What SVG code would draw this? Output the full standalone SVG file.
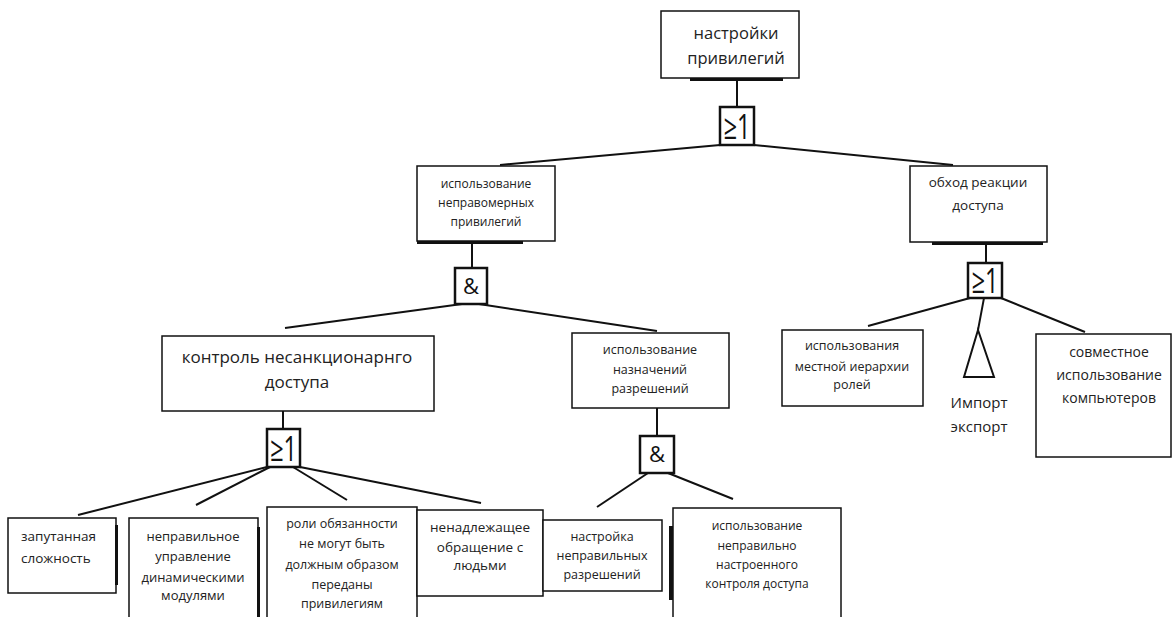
<svg xmlns="http://www.w3.org/2000/svg" width="1172" height="617" viewBox="0 0 1172 617">
<style>
.box{fill:#fff;stroke:#111;stroke-width:1.5}
.bar{fill:#111}
.gate{fill:#fff;stroke:#111;stroke-width:2.5}
.t{font-family:"Open Sans","Liberation Sans",sans-serif;fill:#222;text-anchor:middle}
.ts{font-family:"Open Sans","Liberation Sans",sans-serif;fill:#222;text-anchor:start}
.g{font-family:"Open Sans","Liberation Sans",sans-serif;fill:#111;text-anchor:middle}
.c line{stroke:#111;stroke-width:2;fill:none}
</style>
<rect width="1172" height="617" fill="#fff"/>
<g class="c" id="connectors">
<line x1="737" y1="80" x2="737" y2="107"/>
<line x1="720" y1="145" x2="500" y2="165"/>
<line x1="754" y1="145" x2="953" y2="165"/>
<line x1="472" y1="244" x2="472" y2="268"/>
<line x1="462" y1="304" x2="285" y2="328"/>
<line x1="479" y1="304" x2="657" y2="331"/>
<line x1="283" y1="411" x2="283" y2="429"/>
<line x1="657" y1="408" x2="657" y2="436"/>
<line x1="267" y1="467" x2="78" y2="515"/>
<line x1="270" y1="467" x2="196" y2="505"/>
<line x1="293" y1="467" x2="347" y2="500"/>
<line x1="300" y1="467" x2="481" y2="503"/>
<line x1="648" y1="473" x2="597" y2="507"/>
<line x1="668" y1="473" x2="733" y2="499"/>
<line x1="986" y1="245" x2="986" y2="263"/>
<line x1="970" y1="298" x2="868" y2="326"/>
<line x1="984" y1="298" x2="978" y2="330"/>
<line x1="1001" y1="298" x2="1085" y2="332"/>
</g>
<g id="n_top">
<rect class="box" x="661" y="11" width="138" height="67"/>
<rect class="bar" x="690" y="78" width="93" height="3"/>
<text class="t" font-size="16.5" x="736" y="39">настройки</text>
<text class="t" font-size="16.5" x="736" y="64">привилегий</text>
</g>
<g id="g_or_top">
<rect class="gate" x="720" y="107" width="34" height="38"/>
<text class="g" font-size="34" x="737" y="139" textLength="27" lengthAdjust="spacingAndGlyphs">≥1</text>
</g>
<g id="n_misuse">
<rect class="box" x="417" y="166" width="138" height="75"/>
<rect class="bar" x="417" y="241" width="106" height="3"/>
<text class="t" font-size="12" x="486" y="188">использование</text>
<text class="t" font-size="12" x="486" y="207">неправомерных</text>
<text class="t" font-size="12" x="486" y="226">привилегий</text>
</g>
<g id="n_bypass">
<rect class="box" x="910" y="166" width="137" height="76"/>
<rect class="bar" x="932" y="242" width="111" height="3"/>
<text class="t" font-size="13.5" x="978" y="187">обход реакции</text>
<text class="t" font-size="13.5" x="978" y="210">доступа</text>
</g>
<g id="g_and_mid">
<rect class="gate" x="455" y="268" width="32" height="36"/>
<text class="g" font-size="22" x="471" y="294">&amp;</text>
</g>
<g id="g_or_right">
<rect class="gate" x="968" y="263" width="34" height="35"/>
<text class="g" font-size="34" x="985" y="293" textLength="27" lengthAdjust="spacingAndGlyphs">≥1</text>
</g>
<g id="n_uncontrolled">
<rect class="box" x="162" y="336" width="272" height="75"/>
<text class="t" font-size="17" x="297" y="363">контроль несанкционарнго</text>
<text class="t" font-size="17" x="297" y="388">доступа</text>
</g>
<g id="n_assign">
<rect class="box" x="572" y="333" width="157" height="75"/>
<text class="t" font-size="12.5" x="650" y="354">использование</text>
<text class="t" font-size="12.5" x="650" y="374">назначений</text>
<text class="t" font-size="12.5" x="650" y="393">разрешений</text>
</g>
<g id="n_local">
<rect class="box" x="782" y="330" width="141" height="76"/>
<text class="t" font-size="12.5" x="852" y="350">использования</text>
<text class="t" font-size="12.5" x="852" y="371">местной иерархии</text>
<text class="t" font-size="12.5" x="852" y="389">ролей</text>
</g>
<g id="n_impexp">
<polygon points="978,330 994,377 964,377" fill="#fff" stroke="#111" stroke-width="2"/>
<text class="t" font-size="15" x="979" y="408">Импорт</text>
<text class="t" font-size="15" x="979" y="432">экспорт</text>
</g>
<g id="n_share">
<rect class="box" x="1036" y="334" width="135" height="123"/>
<text class="t" font-size="14" x="1109" y="357">совместное</text>
<text class="t" font-size="14" x="1109" y="380">использование</text>
<text class="t" font-size="14" x="1109" y="403">компьютеров</text>
</g>
<g id="g_or_bottom">
<rect class="gate" x="267" y="429" width="33" height="38"/>
<text class="g" font-size="34" x="283.5" y="461" textLength="27" lengthAdjust="spacingAndGlyphs">≥1</text>
</g>
<g id="g_and_bottom">
<rect class="gate" x="640" y="436" width="34" height="37"/>
<text class="g" font-size="22" x="657" y="462">&amp;</text>
</g>
<g id="n_tangle">
<rect class="box" x="8" y="518" width="108" height="75"/>
<rect class="bar" x="115" y="525" width="3" height="60"/>
<text class="ts" font-size="13.5" x="21" y="541">запутанная</text>
<text class="ts" font-size="13.5" x="21" y="563">сложность</text>
</g>
<g id="n_dynmod">
<rect class="box" x="129" y="518" width="129" height="110"/>
<rect class="bar" x="257" y="527" width="3" height="95"/>
<text class="t" font-size="13" x="193" y="541">неправильное</text>
<text class="t" font-size="13" x="193" y="561">управление</text>
<text class="t" font-size="13" x="193" y="582">динамическими</text>
<text class="t" font-size="13" x="193" y="600">модулями</text>
</g>
<g id="n_roles">
<rect class="box" x="267" y="507" width="150" height="120"/>
<text class="t" font-size="12.5" x="342" y="528">роли обязанности</text>
<text class="t" font-size="12.5" x="342" y="548">не могут быть</text>
<text class="t" font-size="12.5" x="342" y="569">должным образом</text>
<text class="t" font-size="12.5" x="342" y="589">переданы</text>
<text class="t" font-size="12.5" x="342" y="608">привилегиям</text>
</g>
<g id="n_mishandle">
<rect class="box" x="417" y="510" width="126" height="86"/>
<text class="t" font-size="13.5" x="480" y="532">ненадлежащее</text>
<text class="t" font-size="13.5" x="480" y="552">обращение с</text>
<text class="t" font-size="13.5" x="480" y="570">людьми</text>
</g>
<g id="n_setwrong">
<rect class="box" x="543" y="520" width="119" height="71"/>
<text class="t" font-size="12.5" x="602" y="541">настройка</text>
<text class="t" font-size="12.5" x="602" y="560">неправильных</text>
<text class="t" font-size="12.5" x="602" y="579">разрешений</text>
</g>
<g id="n_misconf">
<rect class="box" x="673" y="508" width="168" height="120"/>
<rect class="bar" x="669" y="526" width="4" height="74"/>
<text class="t" font-size="12" x="757" y="530">использование</text>
<text class="t" font-size="12" x="757" y="550">неправильно</text>
<text class="t" font-size="12" x="757" y="569">настроенного</text>
<text class="t" font-size="12" x="757" y="588">контроля доступа</text>
</g>
</svg>
